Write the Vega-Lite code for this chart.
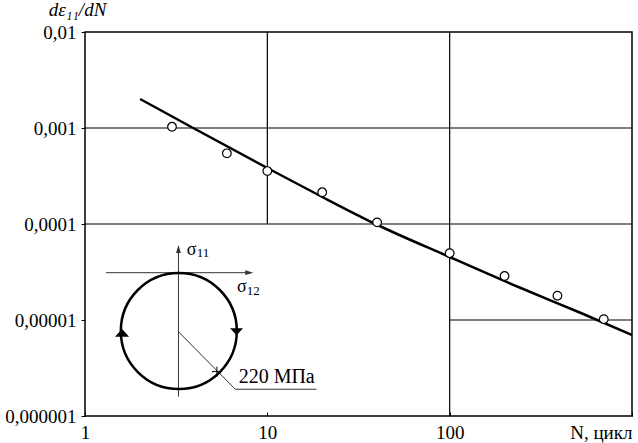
{
  "$schema": "https://vega.github.io/schema/vega-lite/v6.json",
  "width": 547,
  "height": 384,
  "autosize": {"type": "none"},
  "padding": {"left": 85, "top": 32, "right": 6, "bottom": 27},
  "background": "white",
  "config": {
    "view": {"stroke": "black", "strokeWidth": 1.5},
    "font": "Liberation Serif",
    "axis": {
      "grid": false,
      "domain": false,
      "tickColor": "black",
      "labelColor": "black",
      "labelFont": "Liberation Serif",
      "labelFontSize": 19,
      "titleFont": "Liberation Serif",
      "titleColor": "black"
    }
  },
  "datasets": {
    "grid": [
      {"x": 10, "x2": 10, "y": 0.0001, "y2": 0.01},
      {"x": 100, "x2": 100, "y": 0.000001, "y2": 0.01},
      {"x": 1, "x2": 1000, "y": 0.001, "y2": 0.001},
      {"x": 1, "x2": 1000, "y": 0.0001, "y2": 0.0001},
      {"x": 100, "x2": 1000, "y": 0.00001, "y2": 0.00001}
    ],
    "fit": [
      {"x": 2.006, "y": 0.002004},
      {"x": 3.92, "y": 0.001},
      {"x": 10, "y": 0.000383},
      {"x": 19.55, "y": 0.0001957},
      {"x": 39.2, "y": 0.0001},
      {"x": 100, "y": 0.0000453},
      {"x": 245.6, "y": 0.00002154},
      {"x": 524.6, "y": 0.00001183},
      {"x": 1000, "y": 0.00000698}
    ],
    "measured": [
      {"x": 3, "y": 0.00103},
      {"x": 6, "y": 0.000545},
      {"x": 10, "y": 0.000356},
      {"x": 20, "y": 0.000214},
      {"x": 40, "y": 0.000104},
      {"x": 100, "y": 0.0000496},
      {"x": 200, "y": 0.0000287},
      {"x": 390, "y": 0.0000179},
      {"x": 700, "y": 0.0000102}
    ],
    "insetAxes": [
      {"x": 3.255, "x2": 3.255, "y": 0.0000560, "y2": 0.00000159},
      {"x": 1.304, "x2": 8.1, "y": 0.0000311, "y2": 0.0000311}
    ],
    "leader": [
      {"x": 3.255, "x2": 6.67, "y": 0.00000755, "y2": 0.0000019},
      {"x": 6.67, "x2": 18.6, "y": 0.0000019, "y2": 0.0000019}
    ],
    "circle": [{"x": 3.27, "y": 0.00000768}],
    "arrowUp": [{"x": 3.255, "y": 0.0000549}],
    "arrowRight": [{"x": 7.96, "y": 0.0000311}],
    "triUp": [{"x": 1.597, "y": 0.00000733}],
    "triDown": [{"x": 6.78, "y": 0.00000755}],
    "cross": [{"x": 5.29, "y": 0.0000029}],
    "sigma": [
      {"x": 3.62, "y": 0.000047, "t": "σ"},
      {"x": 6.82, "y": 0.0000194, "t": "σ"}
    ],
    "sigmaSub": [
      {"x": 4.1, "y": 0.0000448, "t": "11"},
      {"x": 7.72, "y": 0.0000182, "t": "12"}
    ],
    "radius": [{"x": 6.96, "y": 0.00000219, "t": "220 МПа"}]
  },
  "encoding": {
    "x": {
      "field": "x",
      "type": "quantitative",
      "scale": {"type": "log", "domain": [1, 1000], "nice": false},
      "axis": {
        "values": [1, 10, 100, 1000],
        "labelExpr": "datum.value == 1000 ? 'N, цикл' : toString(datum.value)",
        "labelAlign": {"condition": {"test": "datum.value == 1000", "value": "right"}, "value": "center"},
        "labelFlush": false,
        "labelOverlap": false,
        "labelBound": false,
        "tickSize": -4,
        "labelPadding": 11,
        "title": null
      }
    },
    "y": {
      "field": "y",
      "type": "quantitative",
      "scale": {"type": "log", "domain": [0.000001, 0.01], "nice": false},
      "axis": {
        "values": [0.000001, 0.00001, 0.0001, 0.001, 0.01],
        "labelExpr": "replace(toString(datum.value), '.', ',')",
        "labelOverlap": false,
        "labelBound": false,
        "tickSize": 4,
        "labelPadding": 5,
        "title": "dε₁₁/dN",
        "titleAngle": 0,
        "titleFontStyle": "italic",
        "titleFontWeight": "normal",
        "titleFontSize": 19,
        "titleAlign": "center",
        "titleBaseline": "alphabetic",
        "titleX": -8,
        "titleY": -17
      }
    }
  },
  "layer": [
    {
      "data": {"name": "grid"},
      "mark": {"type": "rule", "color": "black", "strokeWidth": 1.2},
      "encoding": {"x2": {"field": "x2"}, "y2": {"field": "y2"}}
    },
    {
      "data": {"name": "fit"},
      "mark": {"type": "line", "color": "black", "strokeWidth": 2.5, "interpolate": "monotone"},
      "encoding": {}
    },
    {
      "data": {"name": "measured"},
      "mark": {"type": "point", "shape": "circle", "filled": true, "fill": "white", "stroke": "black", "strokeWidth": 1.2, "size": 75, "opacity": 1}
    },
    {
      "data": {"name": "insetAxes"},
      "mark": {"type": "rule", "color": "#333333", "strokeWidth": 1},
      "encoding": {"x2": {"field": "x2"}, "y2": {"field": "y2"}}
    },
    {
      "data": {"name": "leader"},
      "mark": {"type": "rule", "color": "#333333", "strokeWidth": 1},
      "encoding": {"x2": {"field": "x2"}, "y2": {"field": "y2"}}
    },
    {
      "data": {"name": "circle"},
      "mark": {"type": "point", "shape": "circle", "filled": false, "stroke": "black", "strokeWidth": 2.5, "size": 13456, "opacity": 1}
    },
    {
      "data": {"name": "arrowUp"},
      "mark": {"type": "point", "shape": "M0,-1L0.6,1L-0.6,1Z", "filled": true, "fill": "#333333", "strokeWidth": 0, "size": 64, "opacity": 1}
    },
    {
      "data": {"name": "arrowRight"},
      "mark": {"type": "point", "shape": "M1,0L-1,0.6L-1,-0.6Z", "filled": true, "fill": "#333333", "strokeWidth": 0, "size": 64, "opacity": 1}
    },
    {
      "data": {"name": "triUp"},
      "mark": {"type": "point", "shape": "M-1,0.55L1,0.55L0,-0.55Z", "filled": true, "fill": "black", "strokeWidth": 0, "size": 196, "opacity": 1}
    },
    {
      "data": {"name": "triDown"},
      "mark": {"type": "point", "shape": "M-1,-0.55L1,-0.55L0,0.55Z", "filled": true, "fill": "black", "strokeWidth": 0, "size": 169, "opacity": 1}
    },
    {
      "data": {"name": "cross"},
      "mark": {"type": "point", "shape": "M-1,0L1,0M0,-1L0,1", "filled": false, "stroke": "black", "strokeWidth": 1, "size": 100, "opacity": 1}
    },
    {
      "data": {"name": "sigma"},
      "mark": {"type": "text", "align": "left", "baseline": "alphabetic", "fontSize": 18, "color": "black"},
      "encoding": {"text": {"field": "t"}}
    },
    {
      "data": {"name": "sigmaSub"},
      "mark": {"type": "text", "align": "left", "baseline": "alphabetic", "fontSize": 13, "color": "black"},
      "encoding": {"text": {"field": "t"}}
    },
    {
      "data": {"name": "radius"},
      "mark": {"type": "text", "align": "left", "baseline": "alphabetic", "fontSize": 20, "color": "black"},
      "encoding": {"text": {"field": "t"}}
    }
  ]
}
